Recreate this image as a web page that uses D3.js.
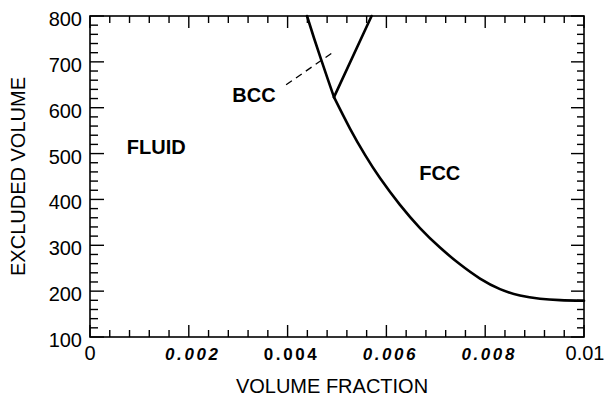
<!DOCTYPE html>
<html><head><meta charset="utf-8">
<script src="https://cdn.jsdelivr.net/npm/d3@7"></script>
<style>
html,body{margin:0;padding:0;background:#fff;}
svg{display:block;}
text{font-family:"Liberation Sans",Arial,Helvetica,sans-serif;fill:#000;}
</style></head>
<body>
<svg id="c" width="605" height="397"></svg>
<script>
// Data: fluid–BCC boundary (above triple point)
const fluidBccX = [0.004393,0.004534,0.004676,0.004808,0.004939];
const fluidBccY = [800,752,706,664,623];
// fluid–FCC boundary (below triple point)
const fluidFccX = [0.004939,0.005263,0.005567,0.005870,0.006275,0.006680,0.007085,0.007490,0.007895,0.008300,0.008704,0.009109,0.009514,0.0100];
const fluidFccY = [623,554.5,497,446.5,388,337.5,295,258.5,227.5,204.5,190.5,183.5,180.5,179];
// BCC–FCC boundary
const bccFccX = [0.004939,0.0057];
const bccFccY = [623,800];
// dashed extension
const dashX = [0.00397,0.00492];
const dashY = [650,721];
const xMajorTicks = [0,0.002,0.004,0.006,0.008,0.01];
const xTickLabels = ["0","0.002","0.004","0.006","0.008","0.01"];
const yMajorTicks = [100,200,300,400,500,600,700,800];
const regionLabels = [
  {text:"FLUID", x:0.00134, y:499},
  {text:"BCC", x:0.00332, y:612},
  {text:"FCC", x:0.00708, y:443}
];

const svg = d3.select("#c");
const L=90, R=584, T=16, B=337;
const x = d3.scaleLinear().domain([0,0.01]).range([L,R]);
const y = d3.scaleLinear().domain([100,800]).range([B,T]);

const xMinor = d3.range(0,0.01+1e-9,0.0004).filter(v=>!xMajorTicks.some(m=>Math.abs(m-v)<1e-9));
const yMinor = d3.range(100,801,20).filter(v=>v%100!==0);

svg.append("rect").attr("x",L).attr("y",T).attr("width",R-L).attr("height",B-T)
  .attr("fill","none").attr("stroke","#000").attr("stroke-width",1.6);

const g = svg.append("g").attr("stroke","#000").attr("stroke-width",1.4);
xMajorTicks.forEach(v=>{
  g.append("line").attr("x1",x(v)).attr("x2",x(v)).attr("y1",B).attr("y2",B-12);
  g.append("line").attr("x1",x(v)).attr("x2",x(v)).attr("y1",T).attr("y2",T+12);
});
xMinor.forEach(v=>{
  g.append("line").attr("x1",x(v)).attr("x2",x(v)).attr("y1",B).attr("y2",B-7);
  g.append("line").attr("x1",x(v)).attr("x2",x(v)).attr("y1",T).attr("y2",T+7);
});
yMajorTicks.forEach(v=>{
  g.append("line").attr("x1",L).attr("x2",L+14).attr("y1",y(v)).attr("y2",y(v));
  g.append("line").attr("x1",R).attr("x2",R-13).attr("y1",y(v)).attr("y2",y(v));
});
yMinor.forEach(v=>{
  g.append("line").attr("x1",L).attr("x2",L+8).attr("y1",y(v)).attr("y2",y(v));
  g.append("line").attr("x1",R).attr("x2",R-7).attr("y1",y(v)).attr("y2",y(v));
});

yMajorTicks.forEach(v=>{
  svg.append("text").attr("x",L-8).attr("y",y(v)+10).attr("text-anchor","end")
    .attr("font-size",20).text(v);
});
xMajorTicks.forEach((v,i)=>{
  const t = svg.append("text").attr("y",360).text(xTickLabels[i]);
  if(i===0){
    t.attr("x",x(v)).attr("text-anchor","middle").attr("font-size",20);
  } else if(i===xMajorTicks.length-1){
    t.attr("x",x(v)+1).attr("text-anchor","middle").attr("font-size",20);
  } else {
    t.attr("x",x(v)+4).attr("text-anchor","middle").attr("font-size",17)
     .attr("font-weight","bold").attr("letter-spacing","2.6px")
     .attr("font-style", i===2 ? "normal" : "italic");
  }
});

svg.append("text").attr("x",(L+R)/2-5).attr("y",393).attr("text-anchor","middle")
  .attr("font-size",20).text("VOLUME FRACTION");
svg.append("text").attr("transform","translate(25,"+((T+B)/2)+") rotate(-90)")
  .attr("text-anchor","middle").attr("font-size",20).text("EXCLUDED VOLUME");

const smooth = d3.line().x(d=>x(d[0])).y(d=>y(d[1])).curve(d3.curveNatural);
const straight = d3.line().x(d=>x(d[0])).y(d=>y(d[1]));
const zip = (a,b)=>a.map((v,i)=>[v,b[i]]);
const curves = svg.append("g").attr("fill","none").attr("stroke","#000")
  .attr("stroke-width",2.6).attr("stroke-linejoin","round").attr("stroke-linecap","round");
curves.append("path").attr("d",smooth(zip(fluidBccX,fluidBccY)));
curves.append("path").attr("d",smooth(zip(fluidFccX,fluidFccY)));
curves.append("path").attr("d",straight(zip(bccFccX,bccFccY)));
svg.append("path").attr("d",straight(zip(dashX,dashY)))
  .attr("fill","none").attr("stroke","#000").attr("stroke-width",1.3).attr("stroke-dasharray","7,5");

regionLabels.forEach(d=>{
  svg.append("text").attr("x",x(d.x)).attr("y",y(d.y)).attr("text-anchor","middle")
    .attr("font-size",20).attr("font-weight","bold").text(d.text);
});
</script>
</body></html>
